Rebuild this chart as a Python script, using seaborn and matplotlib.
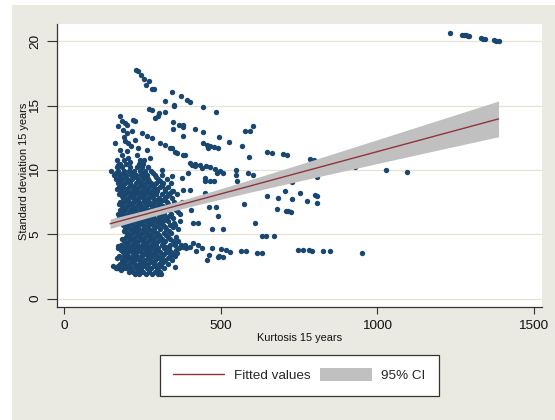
import numpy as np
import pandas as pd
import seaborn as sns
import matplotlib
matplotlib.use('Agg')
import matplotlib.pyplot as plt
from matplotlib.lines import Line2D
from matplotlib.patches import Patch, Rectangle

# dense block of observations, one row per sd level
core_sd = [1.9, 2.1, 2.4, 2.7, 3.0, 3.3, 3.6, 3.9, 4.2, 4.5, 4.8, 5.1, 5.4, 5.7,
           6.0, 6.3, 6.6, 6.9, 7.2, 7.5, 7.8, 8.1, 8.4, 8.7, 9.0, 9.3, 9.6, 9.9,
           10.2, 10.5, 10.8]
core_kurt = [
    [225, 240, 262, 281, 300, 310],
    [205, 218, 236, 250, 270, 289, 305],
    [165, 172, 186, 198, 214, 229, 246, 263, 277, 295, 318],
    [177, 192, 207, 221, 238, 255, 268, 286, 302, 331],
    [183, 196, 212, 226, 241, 259, 274, 290, 308, 322, 345],
    [175, 190, 204, 219, 233, 248, 266, 281, 297, 313, 336, 352],
    [186, 200, 215, 229, 244, 260, 273, 291, 304, 327, 342],
    [172, 195, 210, 224, 238, 254, 269, 284, 300, 318, 334, 365],
    [182, 201, 216, 231, 247, 262, 278, 293, 311, 339, 352, 372, 385],
    [190, 206, 222, 236, 251, 267, 284, 299, 322, 347, 363],
    [196, 211, 226, 242, 257, 273, 290, 306, 331, 356],
    [200, 217, 232, 248, 263, 279, 296, 318, 342],
    [193, 209, 224, 240, 255, 271, 287, 305, 326, 362],
    [188, 203, 219, 234, 250, 266, 282, 298, 316, 337, 355],
    [181, 197, 213, 229, 244, 260, 276, 292, 309, 330, 368],
    [176, 192, 208, 223, 239, 254, 271, 287, 303, 325, 346],
    [171, 186, 202, 218, 233, 249, 265, 281, 298, 319, 341, 371],
    [178, 194, 210, 226, 241, 257, 272, 289, 306, 333, 356],
    [184, 199, 215, 231, 246, 262, 279, 296, 314, 338, 364],
    [179, 191, 207, 222, 238, 254, 270, 286, 304, 327, 349, 375],
    [187, 204, 219, 235, 250, 267, 283, 301, 320, 344],
    [173, 193, 210, 226, 242, 258, 275, 292, 311, 335, 360],
    [181, 199, 215, 231, 248, 264, 281, 297, 322, 348],
    [176, 188, 206, 222, 238, 255, 271, 288, 307, 330],
    [170, 194, 211, 228, 244, 261, 278, 294, 316, 342],
    [165, 183, 201, 217, 234, 251, 268, 300, 327],
    [158, 178, 196, 213, 229, 246, 263, 289, 311],
    [150, 172, 190, 207, 224, 241, 258, 278],
    [167, 185, 210, 232, 248, 266],
    [179, 198, 237, 251],
    [189, 243, 255],
]

# in-between rows of the same block
mid_sd = [2.25, 2.55, 2.85, 3.15, 3.45, 3.75, 4.05, 4.35, 4.65, 4.95, 5.25, 5.55,
          5.85, 6.15, 6.45, 6.75, 7.05, 7.35, 7.65, 7.95, 8.25, 8.55, 8.85, 9.15, 9.45, 9.75]
mid_kurt = [
    [182, 211, 244, 272, 298],
    [170, 201, 233, 258, 290, 309],
    [186, 215, 249, 279, 314],
    [168, 205, 237, 268, 302, 330],
    [197, 226, 257, 288, 319, 347],
    [180, 208, 237, 266, 297, 334, 358],
    [188, 220, 252, 286, 325, 378],
    [198, 228, 259, 291, 316, 355],
    [185, 214, 246, 277, 312, 338],
    [207, 239, 270, 301, 324],
    [190, 221, 253, 284, 334],
    [196, 227, 258, 291, 322, 347],
    [183, 211, 242, 274, 305, 350],
    [189, 220, 252, 284, 318],
    [181, 214, 245, 277, 310, 333],
    [186, 218, 249, 280, 316, 362],
    [192, 223, 254, 285, 322, 347],
    [175, 207, 238, 270, 301, 331, 357],
    [195, 227, 259, 292, 315],
    [183, 216, 247, 279, 328],
    [190, 222, 256, 289, 338],
    [168, 197, 230, 263, 296, 320],
    [183, 214, 246, 279, 312],
    [177, 205, 236, 270, 305],
    [173, 193, 222, 257, 294],
    [165, 186, 218, 252, 283],
]

upper_pts = [(228, 17.8), (235, 17.67), (245, 17.4), (256, 17.07), (261, 16.6), (270, 16.95),
             (279, 16.3), (288, 16.3), (343, 16.08), (372, 15.75), (391, 15.44), (402, 15.31),
             (320, 15.4), (350, 15.05), (349, 14.95), (442, 14.87), (484, 14.48),
             (269, 14.77), (281, 14.7), (301, 14.4), (298, 14.2), (289, 14.04), (320, 14.5),
             (178, 14.17), (183, 13.78), (194, 13.65), (199, 13.52), (220, 13.9), (226, 13.78),
             (346, 13.71), (367, 13.5), (380, 13.5), (380, 13.32), (346, 13.16), (378, 12.66),
             (418, 13.19), (442, 12.98), (495, 12.59), (527, 12.15), (578, 13.06), (594, 13.06),
             (604, 13.45), (567, 11.89), (188, 13.13), (199, 12.87), (215, 13.0), (247, 12.87),
             (263, 12.61), (279, 12.49), (162, 12.1), (194, 12.22), (204, 12.1), (226, 12.35),
             (178, 11.58), (199, 11.45), (236, 11.71), (263, 11.58), (306, 12.1), (322, 11.97),
             (343, 11.71), (359, 11.32), (444, 12.07), (455, 11.98), (466, 11.9), (478, 11.8),
             (490, 11.7), (338, 11.68), (354, 11.42), (386, 11.16), (380, 11.19), (460, 11.71),
             (402, 10.52), (418, 10.45), (435, 10.38), (452, 10.3), (466, 10.2), (480, 10.1),
             (167, 10.8), (172, 10.41), (204, 10.93), (231, 11.19), (247, 10.54), (274, 10.93),
             (185, 11.2), (214, 11.9), (190, 12.55), (172, 13.4), (210, 10.6),
             (647, 11.43), (663, 11.35), (700, 11.25), (711, 11.17), (590, 11.03),
             (785, 10.83), (799, 10.78), (929, 10.26), (1028, 10.0), (1095, 9.84)]

middle_pts = [(311, 10.02), (343, 9.5), (375, 9.38), (407, 10.41), (418, 10.28), (439, 10.16),
              (396, 9.77), (450, 9.38), (466, 9.12), (380, 8.47), (402, 8.47), (343, 8.34),
              (311, 8.86), (496, 9.9), (487, 9.77), (507, 9.77), (479, 9.12), (448, 9.12),
              (550, 9.97), (550, 9.64), (586, 9.77), (603, 9.64), (451, 8.21), (553, 9.12),
              (727, 9.09), (807, 9.48), (647, 7.98), (684, 7.8), (705, 8.39), (727, 7.72),
              (753, 8.19), (775, 7.57), (801, 8.06), (809, 8.0), (809, 7.46), (575, 7.33),
              (679, 6.95), (708, 6.84), (716, 6.81), (725, 6.76), (609, 5.86), (507, 5.44),
              (473, 5.44), (631, 4.9), (643, 4.88), (671, 4.84), (492, 6.4), (411, 5.88),
              (428, 5.88), (462, 7.1), (485, 7.1), (405, 6.92), (382, 7.36)]

lower_pts = [(615, 3.53), (633, 3.53), (564, 3.68), (581, 3.68), (746, 3.78), (762, 3.78),
             (783, 3.76), (793, 3.73), (828, 3.68), (849, 3.68), (951, 3.57), (530, 3.63),
             (518, 3.81), (507, 3.24), (490, 3.24), (462, 3.42), (456, 3.03), (473, 3.94),
             (428, 4.2), (411, 4.33), (388, 3.94), (354, 2.44), (360, 3.55), (326, 3.81),
             (440, 3.9), (400, 4.05), (420, 3.7), (500, 3.85), (495, 3.3), (156, 2.52),
             (168, 2.38), (172, 4.07)]

top_right_pts = [(1234, 20.65), (1271, 20.5), (1277, 20.48), (1283, 20.47), (1290, 20.42),
                 (1294, 20.4), (1331, 20.23), (1338, 20.2), (1345, 20.18), (1373, 20.08),
                 (1380, 20.06), (1388, 20.05)]

# linear fit and its 95% band
fit_x = [146, 1388]
fit_y = [5.82, 13.97]
ci_x = [146, 250, 350, 450, 600, 750, 900, 1050, 1200, 1388]
ci_lo = [5.45, 6.18, 6.84, 7.44, 8.31, 9.14, 9.96, 10.77, 11.58, 12.58]
ci_hi = [6.19, 6.82, 7.48, 8.18, 9.29, 10.42, 11.58, 12.74, 13.90, 15.36]

kurt, sd = [], []
for levels, rows in ((core_sd, core_kurt), (mid_sd, mid_kurt)):
    for s, row in zip(levels, rows):
        kurt += row
        sd += [s] * len(row)
for pts in (upper_pts, middle_pts, lower_pts, top_right_pts):
    kurt += [p[0] for p in pts]
    sd += [p[1] for p in pts]
df = pd.DataFrame({'kurt': kurt, 'sd': sd})

sns.set_style('white')
plt.rcParams['font.family'] = ['Liberation Sans', 'DejaVu Sans']

bg = '#EAEAE3'
fig = plt.figure(figsize=(5.55, 4.2), dpi=100)
fig.patch.set_facecolor('white')
fig.patches.append(Rectangle((11.7 / 555, 0), 1, 1 - 5 / 420, transform=fig.transFigure,
                             facecolor=bg, edgecolor='none', zorder=-10))

ax = fig.add_axes([0.102, 0.269, 0.874, 0.674])
ax.set_facecolor('white')

sns.scatterplot(data=df, x='kurt', y='sd', s=15, color='#1A476F', linewidth=0,
                ax=ax, zorder=2, legend=False)
ax.fill_between(ci_x, ci_lo, ci_hi, color='#C0C0C0', lw=0, zorder=3)
sns.lineplot(x=fit_x, y=fit_y, color='#90353B', lw=1, ax=ax, zorder=4)

ax.set_xlim(-25, 1526)
ax.set_ylim(-0.65, 21.35)
ax.set_xticks([0, 500, 1000, 1500])
ax.set_yticks([0, 5, 10, 15, 20])
ax.yaxis.grid(True, color='#E4E4D0', lw=0.9)
ax.set_axisbelow(True)
for s in ['top', 'right']:
    ax.spines[s].set_visible(False)
for s in ['left', 'bottom']:
    ax.spines[s].set_color('#333333')
    ax.spines[s].set_linewidth(0.9)

ax.tick_params(axis='x', bottom=True, length=5, width=0.8, pad=4.3, labelsize=9.7,
               color='#333333', labelcolor='#111111')
ax.tick_params(axis='y', left=True, length=7, width=0.8, pad=4, labelsize=9.7,
               color='#333333', labelcolor='#111111')
plt.setp(ax.get_yticklabels(), rotation=90, va='center')

ax.set_xlabel('Kurtosis 15 years', fontsize=7.9, color='#111111')
ax.set_ylabel('Standard deviation 15 years', fontsize=7.9, color='#111111')
ax.xaxis.set_label_coords(0.5, (307 - 338) / 283)
ax.xaxis.label.set_va('center')
ax.yaxis.set_label_coords((24 - 56.6) / 485, 0.48)
ax.yaxis.label.set_va('center')

handles = [Line2D([], [], color='#90353B', lw=1),
           Patch(facecolor='#C0C0C0', edgecolor='none')]
leg = fig.legend(handles, ['Fitted values', '95% CI'], loc='center',
                 bbox_to_anchor=(0.539, 0.107), ncol=2, frameon=True, fancybox=False,
                 fontsize=9.7, handlelength=3.8, handleheight=1.1, handletextpad=0.7,
                 columnspacing=0.75, borderpad=1.0, framealpha=1)
leg.get_frame().set_edgecolor('#333333')
leg.get_frame().set_linewidth(0.9)

fig.savefig('out.png', dpi=100, facecolor=fig.get_facecolor())
